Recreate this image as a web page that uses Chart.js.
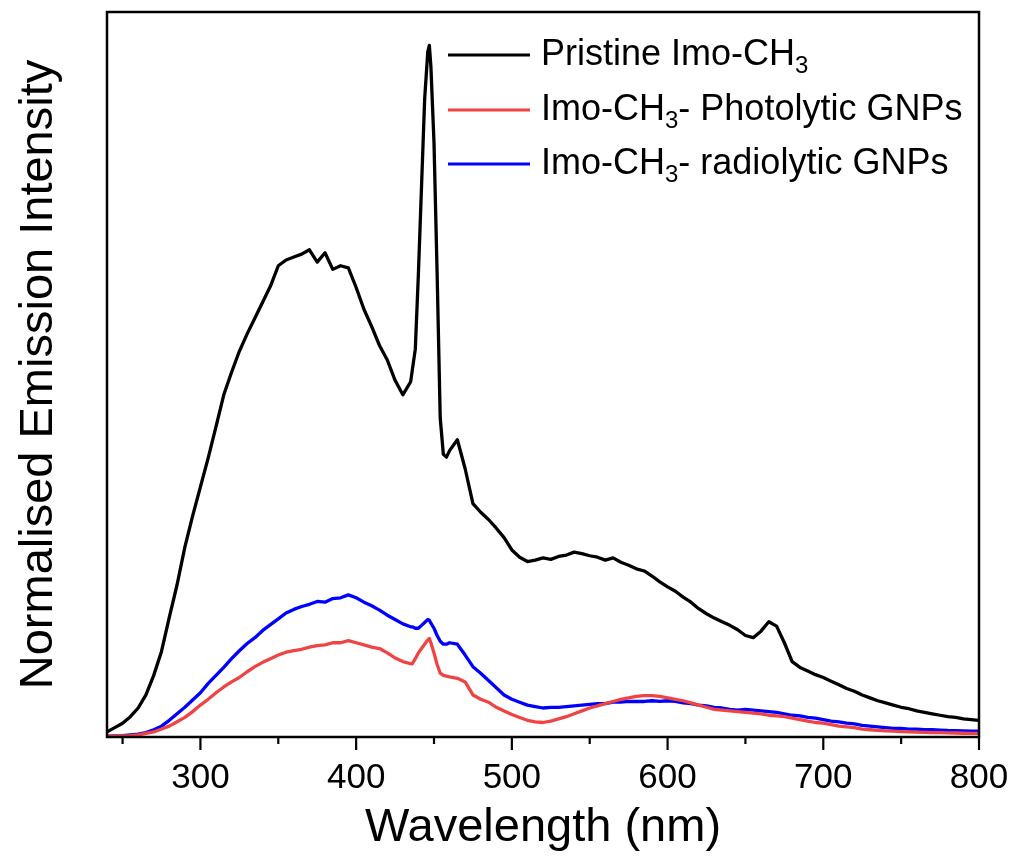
<!DOCTYPE html>
<html>
<head>
<meta charset="utf-8">
<script src="https://cdn.jsdelivr.net/npm/chart.js@4.4.1/dist/chart.umd.min.js"></script>
<style>
html,body{margin:0;padding:0;background:#fff;}
#wrap{width:1010px;height:860px;position:relative;}
</style>
</head>
<body>
<div id="wrap"><canvas id="c" width="1010" height="860"></canvas></div>
<script>
// Wavelength grid (nm)
const wavelength = [240,245,250,255,260,265,270,275,280,285,290,295,300,305,310,315,320,325,330,335,340,345,350,355,360,365,370,375,380,385,390,395,400,405,410,415,420,425,430,435,
436,438,440,442,444,446,447,448,450,452,454,456,458,460,
465,470,475,480,485,490,495,500,505,510,515,520,525,530,535,540,545,550,555,560,565,570,575,580,585,590,595,600,605,610,615,620,625,630,635,640,645,650,655,660,665,670,675,680,685,690,695,700,705,710,715,720,725,730,735,740,745,750,755,760,765,770,775,780,785,790,795,800];

const pristine = [0.007,0.013,0.019,0.028,0.040,0.058,0.085,0.118,0.165,0.210,0.262,0.305,0.345,0.385,0.428,0.472,0.503,0.532,0.556,0.578,0.600,0.622,0.650,0.658,0.662,0.666,0.672,0.655,0.668,0.645,0.650,0.647,0.620,0.590,0.566,0.540,0.520,0.492,0.472,0.490,
0.505,0.535,0.640,0.760,0.880,0.945,0.954,0.925,0.820,0.640,0.440,0.390,0.386,0.395,
0.410,0.370,0.322,0.310,0.300,0.288,0.275,0.258,0.248,0.242,0.244,0.247,0.245,0.249,0.251,0.255,0.253,0.250,0.248,0.244,0.247,0.241,0.237,0.232,0.229,0.222,0.214,0.207,0.201,0.193,0.186,0.177,0.170,0.164,0.159,0.154,0.148,0.140,0.137,0.146,0.159,0.153,0.130,0.104,0.096,0.091,0.086,0.082,0.077,0.072,0.067,0.063,0.058,0.054,0.050,0.047,0.044,0.041,0.039,0.036,0.034,0.032,0.030,0.028,0.027,0.025,0.024,0.023];

const photolytic = [0.001,0.0012,0.0015,0.002,0.003,0.005,0.007,0.011,0.015,0.021,0.027,0.035,0.044,0.052,0.061,0.069,0.076,0.082,0.090,0.097,0.103,0.108,0.113,0.117,0.119,0.121,0.124,0.126,0.127,0.130,0.130,0.133,0.130,0.127,0.124,0.122,0.116,0.109,0.104,0.101,
0.101,0.108,0.116,0.122,0.128,0.134,0.136,0.130,0.116,0.100,0.088,0.085,0.084,0.083,
0.081,0.076,0.058,0.052,0.048,0.041,0.036,0.031,0.027,0.023,0.021,0.020,0.022,0.025,0.028,0.032,0.036,0.040,0.043,0.046,0.049,0.052,0.054,0.056,0.057,0.057,0.056,0.054,0.052,0.050,0.047,0.044,0.041,0.038,0.037,0.036,0.035,0.034,0.033,0.032,0.030,0.029,0.028,0.026,0.024,0.022,0.020,0.019,0.017,0.015,0.014,0.013,0.011,0.010,0.009,0.0085,0.008,0.0075,0.007,0.0068,0.0065,0.006,0.006,0.0058,0.0055,0.0052,0.005,0.005];

const radiolytic = [0.001,0.0015,0.002,0.003,0.004,0.006,0.010,0.015,0.023,0.032,0.041,0.051,0.061,0.074,0.085,0.096,0.108,0.119,0.129,0.137,0.147,0.155,0.163,0.171,0.176,0.180,0.183,0.187,0.186,0.191,0.192,0.196,0.192,0.186,0.181,0.175,0.168,0.162,0.156,0.152,
0.152,0.150,0.150,0.154,0.158,0.162,0.161,0.157,0.150,0.140,0.132,0.128,0.128,0.130,
0.128,0.113,0.097,0.088,0.078,0.068,0.058,0.052,0.048,0.044,0.042,0.040,0.041,0.041,0.042,0.043,0.044,0.045,0.046,0.046,0.048,0.048,0.049,0.049,0.049,0.050,0.049,0.050,0.049,0.047,0.046,0.044,0.043,0.041,0.040,0.038,0.037,0.038,0.037,0.036,0.035,0.034,0.032,0.030,0.029,0.027,0.026,0.024,0.022,0.021,0.019,0.018,0.016,0.015,0.014,0.013,0.012,0.012,0.011,0.011,0.010,0.010,0.0095,0.009,0.0088,0.0085,0.008,0.008];

const xTickLabels = [300,400,500,600,700,800];
const seriesNames = ['Pristine Imo-CH', 'Imo-CH', 'Imo-CH'];
const seriesSub = ['3','3','3'];
const seriesTail = ['', '- Photolytic GNPs', '- radiolytic GNPs'];
const seriesColors = ['#000000', '#f04343', '#0000ff'];

function pts(arr){ return wavelength.map((w,i)=>({x:w,y:arr[i]})); }

const FONT = '"Liberation Sans", Arial, sans-serif';

const framePlugin = {
  id:'frame',
  afterDatasetsDraw(chart){
    const ctx = chart.ctx, a = chart.chartArea, xs = chart.scales.x;
    ctx.save();
    ctx.strokeStyle = '#000';
    ctx.lineWidth = 2.5;
    ctx.strokeRect(a.left, a.top, a.right - a.left, a.bottom - a.top);
    ctx.lineWidth = 2.2;
    for (let v = 250; v <= 800; v += 50) {
      const px = xs.getPixelForValue(v);
      const len = (v % 100 === 0) ? 13 : 7;
      ctx.beginPath();
      ctx.moveTo(px, a.bottom);
      ctx.lineTo(px, a.bottom + len);
      ctx.stroke();
    }
    ctx.restore();
  }
};

const legendPlugin = {
  id:'customLegend',
  afterDraw(chart){
    const ctx = chart.ctx;
    const rows = [55, 110, 164];
    const x0 = 448, x1 = 530, tx = 541;
    const fs = 36;
    ctx.save();
    ctx.textBaseline = 'middle';
    ctx.textAlign = 'left';
    rows.forEach((y,i)=>{
      ctx.strokeStyle = seriesColors[i];
      ctx.lineWidth = 3.2;
      ctx.beginPath(); ctx.moveTo(x0,y); ctx.lineTo(x1,y); ctx.stroke();
      ctx.fillStyle = '#000';
      ctx.font = fs + 'px ' + FONT;
      let x = tx;
      ctx.fillText(seriesNames[i], x, y);
      x += ctx.measureText(seriesNames[i]).width;
      ctx.font = Math.round(fs*0.66) + 'px ' + FONT;
      ctx.fillText(seriesSub[i], x, y + 11);
      x += ctx.measureText(seriesSub[i]).width;
      ctx.font = fs + 'px ' + FONT;
      if (seriesTail[i]) ctx.fillText(seriesTail[i], x, y);
    });
    ctx.restore();
  }
};

new Chart(document.getElementById('c'), {
  type:'line',
  data:{
    datasets:[
      {label:'Pristine Imo-CH3', data:pts(pristine), borderColor:seriesColors[0], borderWidth:3.3},
      {label:'Imo-CH3- Photolytic GNPs', data:pts(photolytic), borderColor:seriesColors[1], borderWidth:3.3},
      {label:'Imo-CH3- radiolytic GNPs', data:pts(radiolytic), borderColor:seriesColors[2], borderWidth:3.3}
    ]
  },
  options:{
    responsive:false,
    animation:false,
    devicePixelRatio:1,
    elements:{point:{radius:0}, line:{tension:0, borderJoinStyle:'round', borderCapStyle:'round'}},
    layout:{padding:{left:0, right:31, top:12, bottom:0}},
    plugins:{legend:{display:false}, tooltip:{enabled:false}},
    scales:{
      x:{
        type:'linear', min:240, max:800,
        grid:{display:false, drawTicks:false},
        border:{display:false},
        ticks:{
          stepSize:50, includeBounds:false, autoSkip:false, maxRotation:0, padding:20,
          color:'#000', font:{family:FONT, size:35},
          callback:(v)=> xTickLabels.includes(v) ? String(v) : ''
        },
        title:{display:true, text:'Wavelength (nm)', color:'#000', font:{family:FONT, size:47}, padding:{top:0,bottom:4}},
        afterFit:(s)=>{ s.height = 123; s.paddingLeft = 0; s.paddingRight = 0; }
      },
      y:{
        min:0, max:1,
        grid:{display:false, drawTicks:false},
        border:{display:false},
        ticks:{display:false},
        title:{display:true, text:'Normalised Emission Intensity', color:'#000', font:{family:FONT, size:47}, padding:{top:11,bottom:0}},
        afterFit:(s)=>{ s.width = 107; s.paddingTop = 0; s.paddingBottom = 0; }
      }
    }
  },
  plugins:[framePlugin, legendPlugin]
});
</script>
</body>
</html>
